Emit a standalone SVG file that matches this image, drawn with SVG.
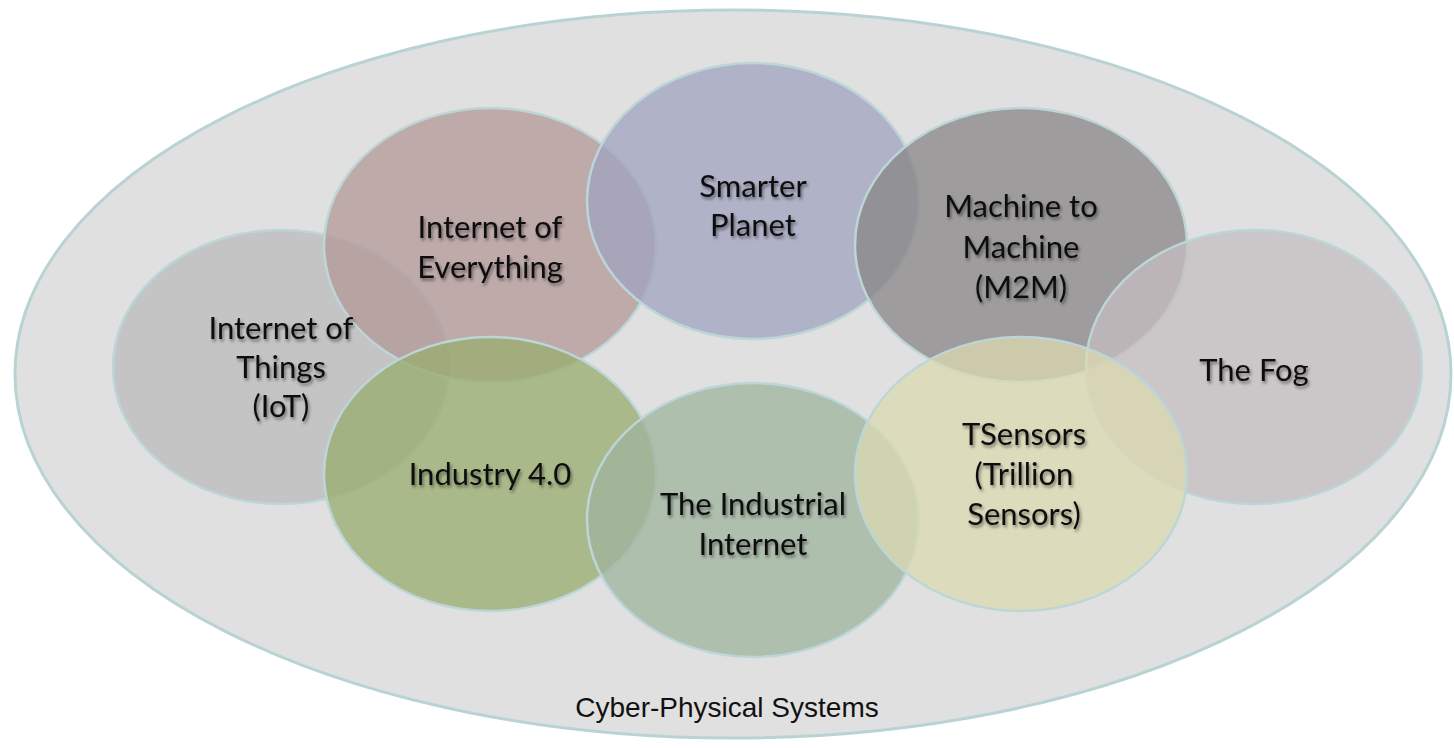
<svg xmlns="http://www.w3.org/2000/svg" width="1454" height="748" viewBox="0 0 1454 748">
<defs>
<filter id="sh" x="-20%" y="-30%" width="140%" height="160%">
<feDropShadow dx="1.5" dy="2.5" stdDeviation="1.6" flood-color="#000" flood-opacity="0.45"/>
</filter>
<style>
.c{stroke:#bcd6d8;stroke-width:2.5;fill-opacity:0.75}
.t{font-family:Lato,"Open Sans","Liberation Sans",sans-serif;font-size:31px;fill:#111;text-anchor:middle;filter:url(#sh)}
</style>
</defs>
<rect width="1454" height="748" fill="#fff"/>
<g id="cps">
<ellipse cx="733" cy="374" rx="718" ry="364" fill="#e0e0e0" stroke="#b9d3d4" stroke-width="3"/>
<text x="727" y="717" font-family="'Liberation Sans',Arial,sans-serif" font-size="28" fill="#111" text-anchor="middle">Cyber-Physical Systems</text>
</g>
<g id="iot"><ellipse class="c" cx="281" cy="367" rx="168" ry="137" fill="#bbbbbb"/></g>
<g id="ioe"><ellipse class="c" cx="490" cy="245" rx="166" ry="137" fill="#b49898"/></g>
<g id="sp"><ellipse class="c" cx="753" cy="201" rx="166" ry="138" fill="#a0a3c0"/></g>
<g id="m2m"><ellipse class="c" cx="1021" cy="245" rx="166" ry="137" fill="#888585"/></g>
<g id="fog"><ellipse class="c" cx="1254" cy="367" rx="168" ry="137" fill="#c4bdc0"/></g>
<g id="ind"><ellipse class="c" cx="490" cy="474" rx="166" ry="137" fill="#98ac6d"/></g>
<g id="ii"><ellipse class="c" cx="753" cy="520" rx="166" ry="137" fill="#9fb49d"/></g>
<g id="ts"><ellipse class="c" cx="1021" cy="474" rx="166" ry="137" fill="#dbd9b0"/></g>
<g id="labels">
<text class="t" x="281" y="339">Internet of</text>
<text class="t" x="281" y="378">Things</text>
<text class="t" x="281" y="417">(IoT)</text>
<text class="t" x="490" y="238">Internet of</text>
<text class="t" x="490" y="278">Everything</text>
<text class="t" x="753" y="197">Smarter</text>
<text class="t" x="753" y="236">Planet</text>
<text class="t" x="1021" y="217">Machine to</text>
<text class="t" x="1021" y="258">Machine</text>
<text class="t" x="1021" y="298">(M2M)</text>
<text class="t" x="1254" y="381">The Fog</text>
<text class="t" x="490" y="485">Industry 4.0</text>
<text class="t" x="753" y="515">The Industrial</text>
<text class="t" x="753" y="555">Internet</text>
<text class="t" x="1024" y="445">TSensors</text>
<text class="t" x="1024" y="485">(Trillion</text>
<text class="t" x="1024" y="525">Sensors)</text>
</g>
<g id="connectors"/>
</svg>
